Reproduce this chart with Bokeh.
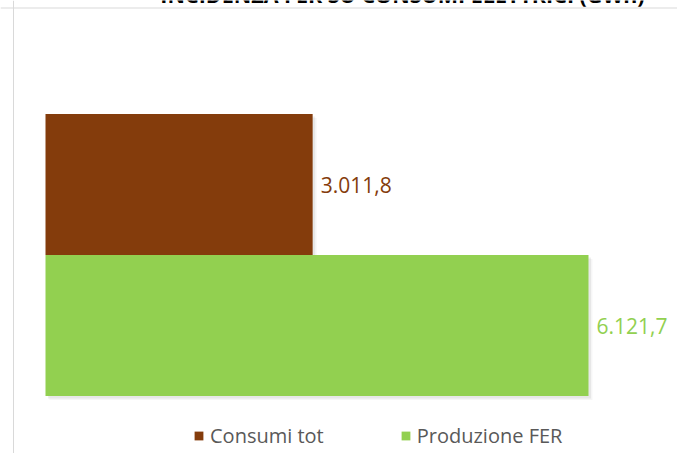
from bokeh.plotting import figure
from bokeh.models import ColumnDataSource, Range1d, Span, Legend, LegendItem
from bokeh.transform import dodge
from bokeh.core.properties import value
from bokeh.embed import file_html
from bokeh.resources import INLINE

# ---- data ----
categories = ["Consumi tot", "Produzione FER"]
values_gwh = [3011.8, 6121.7]
bar_colors = ["#843C0C", "#92D050"]
title_text = "INCIDENZA FER SU CONSUMI ELETTRICI (GWh)"

def it_fmt(v):
    s = f"{v:,.1f}"
    return s.replace(",", "#").replace(".", ",").replace("#", ".")

labels = [it_fmt(v) for v in values_gwh]
positions = [len(categories) - 1 - i for i in range(len(categories))]

# ---- layout constants (pixels) ----
W, H = 677, 453
X0_PX = 45          # canvas x of value 0
XS = 0.0887         # pixels per GWh
Y_UNIT = 141        # pixels per category step
TOP_CENTER_PX = 184 # canvas y of the first category's centre

x_start = -X0_PX / XS
x_end = (W - X0_PX) / XS
y_top = positions[0] + TOP_CENTER_PX / Y_UNIT
y_bot = y_top - H / Y_UNIT

def px2x(px):
    return x_start + px / XS

def px2y(py):
    return y_top - py / Y_UNIT

src = ColumnDataSource(dict(cat=categories, value=values_gwh, pos=positions,
                            color=bar_colors, label=labels))

p = figure(width=W, height=H, output_backend="svg", toolbar_location=None,
           x_range=Range1d(x_start, x_end), y_range=Range1d(y_bot, y_top),
           min_border=0, background_fill_color="white",
           border_fill_color="white")
p.outline_line_color = None
p.axis.visible = False
p.grid.visible = False

# frame lines of the original chart area
p.add_layout(Span(location=px2x(13), dimension="height", line_color="#D9D9D9", line_width=1))
p.add_layout(Span(location=px2y(7.5), dimension="width", line_color="#D9D9D9", line_width=1))

# soft shadows
for off, a in [(4, 0.07), (2.5, 0.12)]:
    p.hbar(y=dodge("pos", -off / Y_UNIT), left=off / XS,
           right=dodge("value", off / XS), height=1, source=src,
           fill_color="#7F7F7F", fill_alpha=a, line_color=None)

bars = p.hbar(y="pos", left=0, right="value", height=1, source=src,
              fill_color="color", line_color=None)

p.text(x="value", y="pos", text="label", source=src, x_offset=8,
       text_color="color", text_baseline="middle", text_align="left",
       text_font=value("Open Sans"), text_font_size="21px")

# title (partly cut off at the top, as in the original)
p.text(x=[px2x(402)], y=[px2y(8)], text=[title_text], text_align="center",
       text_baseline="bottom", text_color="black",
       text_font=value("Open Sans"), text_font_style="bold",
       text_font_size="21.5px")

legend = Legend(location=(193, 4), orientation="horizontal")
legend.items = [LegendItem(label=categories[i], renderers=[bars], index=i)
                for i in range(len(categories))]
legend.glyph_width = 11
legend.glyph_height = 11
legend.label_standoff = 6
legend.spacing = 76
legend.padding = 0
legend.margin = 0
legend.border_line_alpha = 0
legend.background_fill_alpha = 0
legend.label_text_font = "Open Sans"
legend.label_text_font_size = "20px"
legend.label_text_color = "#595959"
p.add_layout(legend, "center")

open("out.html", "w").write(file_html(p, INLINE))
